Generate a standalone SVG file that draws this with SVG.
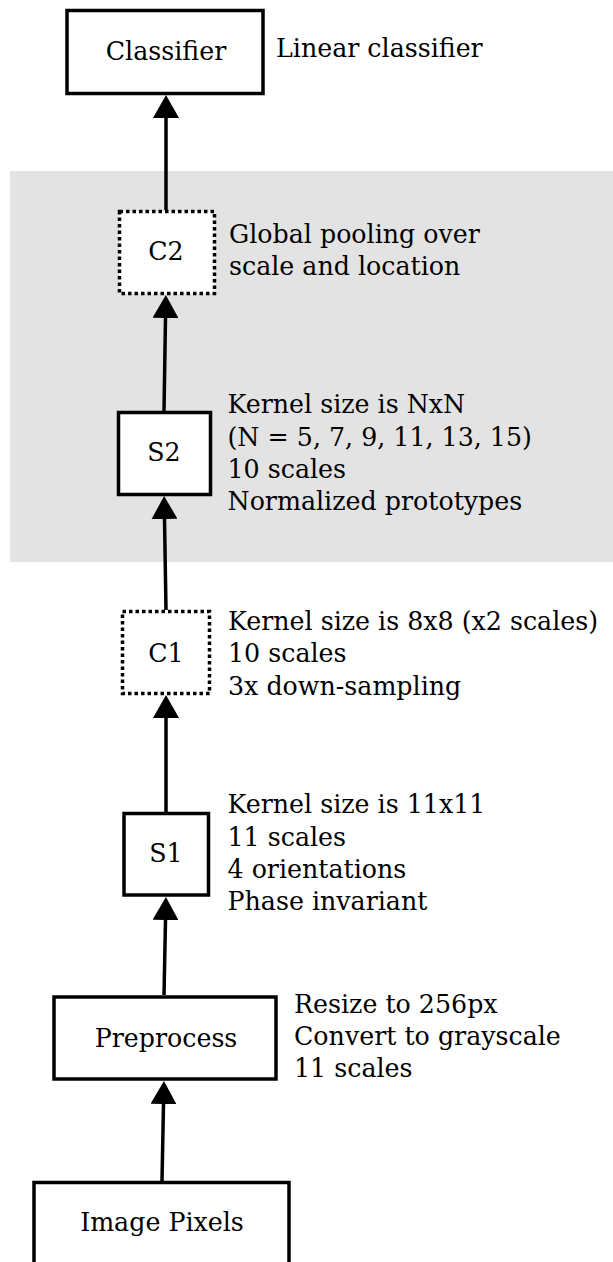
<svg xmlns="http://www.w3.org/2000/svg" width="613" height="1262" viewBox="0 0 613 1262">
<style>
text{font-family:"DejaVu Serif","Liberation Serif",serif;font-size:25.3px;fill:#000}
.c{text-anchor:middle}
.box{fill:#fff;stroke:#000;stroke-width:3.5}
.dot{fill:#fff;stroke:#000;stroke-width:3.5;stroke-dasharray:3.5,3}
.edge{stroke:#000;stroke-width:3.5;fill:none;marker-end:url(#ah)}
</style>
<defs>
<marker id="ah" viewBox="0 0 23 26" refX="0" refY="13" markerWidth="23" markerHeight="26" markerUnits="userSpaceOnUse" orient="auto">
<path d="M0,0 L23,13 L0,26 z" fill="#000"/>
</marker>
</defs>
<rect width="613" height="1262" fill="#fff"/>
<rect id="cluster" x="10" y="171" width="603" height="391" fill="#e3e3e3"/>
<g id="connectors">
<path class="edge" d="M162,1181 L163.5,1104"/>
<path class="edge" d="M164,995 L165.5,920"/>
<path class="edge" d="M166,812 L166,718"/>
<path class="edge" d="M166,610 L164.5,519"/>
<path class="edge" d="M164,411 L165.5,318"/>
<path class="edge" d="M166,210 L166,118"/>
</g>
<g id="classifier">
<rect class="box" x="67" y="10.5" width="196" height="83"/>
<text class="c" x="166" y="60">Classifier</text>
<text x="276" y="57">Linear classifier</text>
</g>
<g id="c2">
<rect class="dot" x="119.5" y="211.5" width="95" height="82"/>
<text class="c" x="166" y="260">C2</text>
<text x="229" y="243">Global pooling over</text>
<text x="229" y="275">scale and location</text>
</g>
<g id="s2">
<rect class="box" x="118.5" y="412.5" width="92" height="82"/>
<text class="c" x="164" y="461">S2</text>
<text x="227.5" y="413">Kernel size is NxN</text>
<text x="227.5" y="445.5">(N = 5, 7, 9, 11, 13, 15)</text>
<text x="227.5" y="477.5">10 scales</text>
<text x="227.5" y="510">Normalized prototypes</text>
</g>
<g id="c1">
<rect class="dot" x="122.5" y="611.5" width="87" height="82"/>
<text class="c" x="166" y="661.5">C1</text>
<text x="228" y="629.5">Kernel size is 8x8 (x2 scales)</text>
<text x="228" y="662">10 scales</text>
<text x="228" y="694.5">3x down-sampling</text>
</g>
<g id="s1">
<rect class="box" x="124" y="813.5" width="84.5" height="81.5"/>
<text class="c" x="166" y="861.5">S1</text>
<text x="227.5" y="813">Kernel size is 11x11</text>
<text x="227.5" y="845.5">11 scales</text>
<text x="227.5" y="877.5">4 orientations</text>
<text x="227.5" y="910">Phase invariant</text>
</g>
<g id="preprocess">
<rect class="box" x="54" y="997" width="222" height="82"/>
<text class="c" x="166" y="1046.5">Preprocess</text>
<text x="294" y="1013">Resize to 256px</text>
<text x="294" y="1045">Convert to grayscale</text>
<text x="294" y="1076.5">11 scales</text>
</g>
<g id="image">
<rect class="box" x="34" y="1182.5" width="255" height="100"/>
<text class="c" x="162" y="1230.5">Image Pixels</text>
</g>
</svg>
